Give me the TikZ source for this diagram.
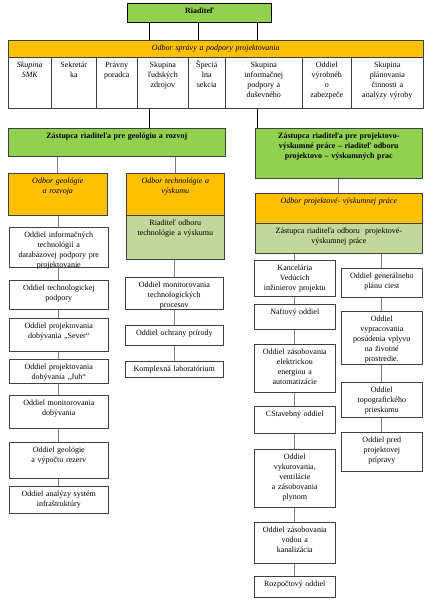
\documentclass[tikz,border=0pt]{standalone}
\usepackage{fontspec}
\setmainfont{Liberation Serif}
\usetikzlibrary{backgrounds}
\definecolor{grnfill}{HTML}{92D050}
\definecolor{orgfill}{HTML}{FFC000}
\definecolor{lgfill}{HTML}{C3D69B}
\definecolor{bordcol}{HTML}{404040}
\definecolor{linecol}{HTML}{7F7F7F}
\tikzset{
  unitbox/.style={draw=bordcol, line width=0.6pt, fill=white, anchor=north west,
    align=center, inner xsep=2pt, inner ysep=3pt, text height=7pt,
    font=\fontsize{8}{10}\selectfont},
  headbox/.style={unitbox, fill=grnfill, font=\fontsize{8}{10}\selectfont\bfseries},
  deptbox/.style={unitbox, fill=orgfill, font=\fontsize{8}{10}\selectfont\itshape},
  chiefbox/.style={unitbox, fill=lgfill},
  cellbox/.style={unitbox, text depth=38pt},
  link/.style={draw=linecol, line width=0.8pt},
  toplink/.style={draw=black, line width=1pt}
}
\begin{document}
\begin{tikzpicture}[x=1pt, y=-1pt]
  \useasboundingbox (0,0) rectangle (426,600);
  \node[headbox, draw=black, line width=1pt, text width=140pt, text depth=6pt] (riad) at (127,3) {Riaditeľ};
  \node[deptbox, text width=411pt, text depth=4pt] (sprava) at (8,40) {Odbor správy a podpory projektovania};
  \node[cellbox, text width=39pt, font=\fontsize{8}{10}\selectfont\itshape] (smk) at (8,57) {Skupina\\SMK};
  \node[cellbox, text width=41pt] (sekr) at (51,57) {Sekretár\\ka};
  \node[cellbox, text width=37pt] (prav) at (96,57) {Právny\\poradca};
  \node[cellbox, text width=47pt] (ludia) at (137,57) {Skupina\\ľudských\\zdrojov};
  \node[cellbox, text width=33pt] (spec) at (188,57) {Špeciá\\lna\\sekcia};
  \node[cellbox, text width=73pt] (info) at (225,57) {Skupina\\informačnej\\podpory a\\duševného};
  \node[cellbox, text width=45pt] (vyrob) at (302,57) {Oddiel\\výrobnéh\\o\\zabezpeče};
  \node[cellbox, text width=68pt] (plan) at (351,57) {Skupina\\plánovania\\činnosti a\\analýzy výroby};

  \node[headbox, text width=213pt, text depth=15pt] (zgeo) at (8,128) {Zástupca riaditeľa pre geológiu a rozvoj};
  \node[headbox, text width=163pt, text depth=37pt] (zproj) at (255,128) {Zástupca riaditeľa pre projektovo-\\výskumné práce – riaditeľ odboru\\projektovo – výskumných prac};

  \node[deptbox, text width=95pt, text depth=29pt] (ogeo) at (8,173) {Odbor geológie\\a rozvoja};
  \node[deptbox, text width=94pt, text depth=29pt] (otech) at (126,173) {Odbor technológie a\\výskumu};
  \node[chiefbox, text width=94pt, text depth=31pt] (rtech) at (126,215) {Riaditeľ odboru\\technológie a výskumu};
  \node[deptbox, text width=163pt, text depth=17pt] (oproj) at (255,193) {Odbor projektové- výskumnej práce};
  \node[chiefbox, text width=163pt, text depth=17pt] (zoproj) at (255,223) {Zástupca riaditeľa odboru~ projektové-\\výskumnej práce};

  \node[unitbox, text width=95pt, text depth=27pt] (g1) at (9,227) {Oddiel informačných\\technológií a\\databázovej podpory pre\\projektovanie};
  \node[unitbox, text width=95pt, text depth=16pt] (g2) at (9,280) {Oddiel technologickej\\podpory};
  \node[unitbox, text width=95pt, text depth=20pt] (g3) at (9,318) {Oddiel projektovania\\dobývania „Sever“};
  \node[unitbox, text width=95pt, text depth=11pt] (g4) at (9,359) {Oddiel projektovania\\dobývania „Juh“};
  \node[unitbox, text width=95pt, text depth=20pt] (g5) at (9,395) {Oddiel monitorovania\\dobývania};
  \node[unitbox, text width=95pt, text depth=23pt] (g6) at (9,442) {Oddiel geológie\\a výpočtu rezerv};
  \node[unitbox, text width=95pt, text depth=14pt] (g7) at (9,486) {Oddiel analýzy systém\\infraštruktúry};

  \node[unitbox, text width=94pt, text depth=19pt] (t1) at (125,277) {Oddiel monitorovania\\technologických\\procesov};
  \node[unitbox, text width=94pt, text depth=7pt] (t2) at (125,325) {Oddiel ochrany prírody};
  \node[unitbox, text width=94pt, text depth=3pt] (t3) at (125,361) {Komplexná laboratórium};

  \node[unitbox, text width=77pt, text depth=23pt] (p1) at (254,260) {Kancelária\\Vedúcich\\inžinierov projektu};
  \node[unitbox, text width=77pt, text depth=12pt] (p2) at (254,304) {Naftový oddiel};
  \node[unitbox, text width=77pt, text depth=35pt] (p3) at (254,344) {Oddiel zásobovania\\elektrickou\\energiou a\\automatizácie};
  \node[unitbox, text width=77pt, text depth=14pt] (p4) at (254,406) {CStavebný oddiel};
  \node[unitbox, text width=77pt, text depth=45pt] (p5) at (254,449) {Oddiel\\vykurovania,\\ventilácie\\a zásobovania\\plynom};
  \node[unitbox, text width=77pt, text depth=28pt] (p6) at (254,522) {Oddiel zásobovania\\vodou a\\kanalizácia};
  \node[unitbox, text width=77pt, text depth=8pt] (p7) at (254,576) {Rozpočtový oddiel};

  \node[unitbox, text width=77pt, text depth=16pt] (q1) at (341,268) {Oddiel generálneho\\plánu ciest};
  \node[unitbox, text width=77pt, text depth=40pt] (q2) at (341,311) {Oddiel\\vypracovania\\posúdenia vplyvu\\na životné\\prostredie.};
  \node[unitbox, text width=77pt, text depth=22pt] (q3) at (341,382) {Oddiel\\topografického\\prieskumu};
  \node[unitbox, text width=77pt, text depth=26pt] (q4) at (341,432) {Oddiel pred\\projektovej\\prípravy};

  \coordinate (c1) at (149,0);
  \coordinate (c2) at (198,0);
  \coordinate (c3) at (257,0);
  \begin{scope}[on background layer]
    \draw[toplink] (riad.south -| c1) to (zgeo.north -| c1);
    \draw[toplink] (riad.south -| c2) to (sprava.north -| c2);
    \draw[toplink] (riad.south -| c3) to (zproj.north -| c3);
    \draw[link] (zgeo.south -| ogeo.north) to (ogeo.north);
    \draw[link] (zgeo.south -| otech.north) to (otech.north);
    \draw[link] (zproj.south) to (oproj.north);
    \draw[link] (ogeo.south -| g1.north) to (g1.north);
    \draw[link] (g1.south) to (g2.north);
    \draw[link] (g2.south) to (g3.north);
    \draw[link] (g3.south) to (g4.north);
    \draw[link] (g4.south) to (g5.north);
    \draw[link] (g5.south) to (g6.north);
    \draw[link] (g6.south) to (g7.north);
    \draw[link] (rtech.south -| t1.north) to (t1.north);
    \draw[link] (t1.south) to (t2.north);
    \draw[link] (t2.south) to (t3.north);
    \draw[link] (zoproj.south -| p1.north) to (p1.north);
    \draw[link] (p1.south) to (p2.north);
    \draw[link] (p2.south) to (p3.north);
    \draw[link] (p3.south) to (p4.north);
    \draw[link] (p4.south) to (p5.north);
    \draw[link] (p5.south) to (p6.north);
    \draw[link] (p6.south) to (p7.north);
    \draw[link] (zoproj.south -| q1.north) to (q1.north);
    \draw[link] (q1.south) to (q2.north);
    \draw[link] (q2.south) to (q3.north);
    \draw[link] (q3.south) to (q4.north);
  \end{scope}
\end{tikzpicture}
\end{document}
